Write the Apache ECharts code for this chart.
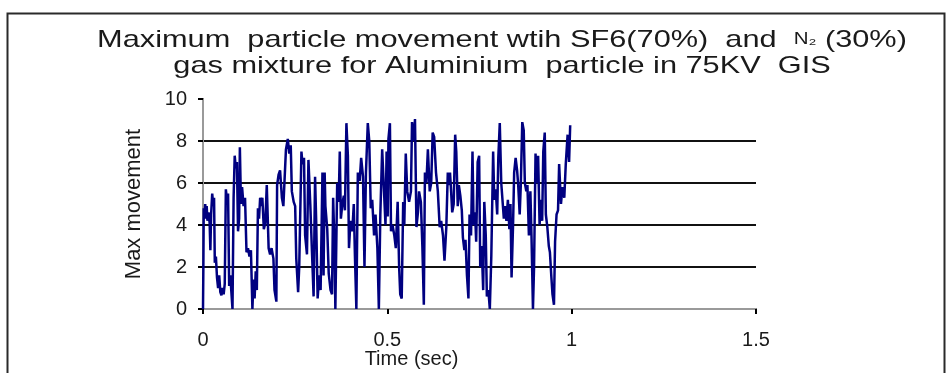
<!DOCTYPE html>
<html>
<head>
<meta charset="utf-8">
<script src="https://cdn.jsdelivr.net/npm/echarts@6/dist/echarts.min.js"></script>
<style>
  html, body { margin: 0; padding: 0; background: #fff; }
  #chart { width: 946px; height: 373px; }
</style>
</head>
<body>
<div id="chart"></div>
<script>
// time axis (sec) and max movement
var timeSec = [
  0.000, 0.001, 0.002, 0.004, 0.006, 0.008, 0.010, 0.012, 0.015, 0.018, 0.020, 0.022, 0.025, 0.028, 0.030, 0.032,
  0.035, 0.038, 0.041, 0.044, 0.047, 0.050, 0.053, 0.056, 0.059, 0.062, 0.065, 0.068, 0.071, 0.074, 0.077, 0.080,
  0.083, 0.086, 0.089, 0.092, 0.095, 0.098, 0.100, 0.103, 0.106, 0.110, 0.114, 0.118, 0.122, 0.126, 0.130, 0.134,
  0.137, 0.140, 0.143, 0.146, 0.149, 0.152, 0.155, 0.158,
  0.161, 0.165, 0.169, 0.173, 0.178, 0.182, 0.186, 0.191, 0.194, 0.199, 0.201, 0.205, 0.209, 0.214, 0.218, 0.225,
  0.230, 0.234, 0.238, 0.241, 0.246, 0.250, 0.253, 0.258, 0.261, 0.267, 0.270, 0.274, 0.277, 0.282, 0.286, 0.291,
  0.295, 0.300, 0.304, 0.307, 0.311, 0.315, 0.319, 0.324, 0.327,
  0.330, 0.332, 0.337, 0.341, 0.346, 0.350, 0.353, 0.357, 0.359, 0.364, 0.368, 0.371, 0.374, 0.378, 0.382, 0.385,
  0.389, 0.393, 0.396, 0.400, 0.405, 0.409, 0.412, 0.416, 0.420, 0.425, 0.429, 0.434, 0.438, 0.442, 0.447, 0.451,
  0.455, 0.459, 0.464, 0.468, 0.473, 0.477, 0.481, 0.486, 0.490, 0.495,
  0.498, 0.501, 0.503, 0.507, 0.510, 0.514, 0.519, 0.523, 0.528, 0.532, 0.535, 0.539, 0.543, 0.546, 0.550, 0.554,
  0.559, 0.564, 0.567, 0.572, 0.575, 0.579, 0.583, 0.586, 0.591, 0.595, 0.599, 0.602, 0.606, 0.610, 0.615, 0.619,
  0.623, 0.627, 0.632, 0.637, 0.642, 0.646, 0.651, 0.655, 0.660,
  0.664, 0.667, 0.670, 0.673, 0.676, 0.680, 0.684, 0.687, 0.691, 0.694, 0.698, 0.702, 0.705, 0.709, 0.712, 0.716,
  0.720, 0.723, 0.727, 0.731, 0.734, 0.738, 0.741, 0.745, 0.749, 0.752, 0.756, 0.760, 0.763, 0.767, 0.770, 0.774,
  0.778, 0.782, 0.787, 0.790, 0.794, 0.798, 0.801, 0.805, 0.809, 0.812, 0.816, 0.819, 0.823, 0.827, 0.831,
  0.834, 0.837, 0.841, 0.844, 0.848, 0.852, 0.855, 0.859, 0.862, 0.866, 0.870, 0.873, 0.877, 0.880, 0.884, 0.888,
  0.891, 0.895, 0.898, 0.902, 0.905, 0.909, 0.913, 0.916, 0.920, 0.923, 0.927, 0.930, 0.934, 0.938, 0.941, 0.945,
  0.948, 0.952, 0.955, 0.959, 0.963, 0.966, 0.971, 0.975, 0.980, 0.984, 0.989, 0.993, 0.996
];
var maxMovement = [
  0, 2.0, 4.8, 4.4, 5.0, 4.3, 4.9, 4.2, 4.6, 4.1, 2.8, 4.5, 5.5, 4.9, 5.3, 2.2,
  2.5, 1.5, 1.0, 1.6, 0.8, 0.65, 1.0, 0.7, 1.2, 5.7, 5.2, 5.5, 1.1, 1.6, 0.8, 0.0,
  5.3, 7.3, 6.7, 7.0, 3.7, 4.3, 7.7, 5.0, 5.8, 4.9, 5.3, 2.7, 2.9, 2.5, 2.8, 0.0,
  1.4, 0.5, 1.8, 0.9, 4.8, 4.3, 5.3, 4.9,
  5.3, 3.8, 4.1, 5.9, 2.9, 2.6, 2.9, 2.4, 0.9, 0.35, 5.9, 6.4, 6.6, 5.3, 4.9, 7.6,
  8.1, 7.4, 7.8, 5.6, 5.1, 4.9, 2.4, 0.8, 2.0, 7.5, 6.9, 7.2, 3.5, 2.6, 7.1, 5.0,
  3.0, 0.6, 6.3, 4.2, 0.5, 1.6, 0.9, 6.5, 1.6,
  6.5, 4.9, 3.8, 1.7, 0.9, 0.7, 5.3, 2.8, 0.0, 6.0, 5.1, 7.5, 4.3, 5.0, 5.4, 4.7,
  8.85, 7.3, 2.9, 4.2, 3.7, 5.0, 2.6, 0.0, 6.5, 6.1, 7.2, 6.3, 2.0, 6.5, 8.85, 8.0,
  4.8, 5.2, 3.5, 4.5, 2.9, 0.0, 4.5, 7.6, 6.0, 4.0,
  7.5, 4.4, 8.1, 8.85, 3.7, 4.0, 3.5, 2.9, 5.1, 2.0, 0.7, 0.5, 5.1, 4.0, 7.4, 5.6,
  5.1, 5.6, 8.9, 8.0, 9.05, 3.9, 4.6, 5.6, 5.1, 3.0, 0.2, 6.5, 6.0, 7.6, 5.6, 6.0,
  8.4, 8.2, 6.5, 5.6, 3.9, 4.2, 3.5, 2.3, 3.9,
  6.5, 5.9, 6.5, 5.6, 4.6, 5.0, 8.3, 7.5, 4.9, 5.9, 5.4, 4.7, 3.4, 2.8, 3.3, 1.6,
  0.5, 4.5, 3.5, 7.5, 4.0, 4.6, 3.2, 7.0, 7.3, 2.0, 3.0, 0.9, 5.1, 3.5, 0.6, 0.9,
  0.0, 2.5, 7.5, 5.2, 5.7, 4.5, 7.2, 8.85, 6.0, 6.0, 4.3, 4.9, 4.2, 5.2, 3.8,
  5.0, 1.5, 4.0, 6.5, 7.2, 6.6, 5.9, 4.5, 5.9, 8.9, 8.5, 6.0, 5.6, 5.9, 3.5, 5.6,
  3.5, 0.0, 2.0, 7.4, 6.0, 7.3, 4.0, 5.2, 4.2, 7.5, 8.4, 4.5, 3.9, 3.0, 2.7, 1.5,
  0.7, 0.2, 3.2, 4.5, 4.7, 6.9, 5.0, 5.8, 5.3, 6.9, 8.3, 7.0, 8.75
];
var xTicks = [0, 0.5, 1, 1.5];
var yTicks = [0, 2, 4, 6, 8, 10];
var titleLines = [
    'Maximum  particle movement wtih SF6(70%)  and  {s|N₂} (30%)',
    'gas mixture for Aluminium  particle in 75KV  GIS'
];

var points = timeSec.map(function (t, i) { return [t, maxMovement[i]]; });

var myChart = echarts.init(document.getElementById('chart'));
var font = 'Liberation Sans, Arial, sans-serif';

// title text in the picture is stretched sideways, so it is drawn as scaled text
function titleText(str, y) {
    return {
        type: 'text',
        x: 502, y: y,
        scaleX: 1.28,
        style: {
            text: str,
            x: 0, y: 0,
            align: 'center',
            verticalAlign: 'middle',
            font: '24px ' + font,
            fill: '#1a1a1a',
            rich: { s: { font: '16px ' + font, fill: '#1a1a1a' } }
        }
    };
}

option = {
    animation: false,
    backgroundColor: '#fff',
    graphic: [{
        type: 'rect',
        left: 5, top: 11,
        shape: { width: 937, height: 420 },
        style: { fill: 'none', stroke: '#2a2a2a', lineWidth: 2 }
    }, titleText(titleLines[0], 40), titleText(titleLines[1], 66)],
    grid: { left: 203, right: 190, top: 99, bottom: 64, containLabel: false, outerBoundsMode: 'none' },
    xAxis: [{
        type: 'value',
        min: xTicks[0], max: xTicks[xTicks.length - 1], interval: 0.5,
        name: 'Time (sec)',
        nameLocation: 'middle',
        nameGap: 40,
        nameMoveOverlap: false,
        nameTextStyle: { fontFamily: font, fontSize: 20, color: '#1a1a1a', padding: [0, 136, 0, 0] },
        axisLine: { lineStyle: { color: '#000', width: 2 } },
        axisTick: { show: true, length: 5, lineStyle: { color: '#000', width: 2 } },
        axisLabel: { fontFamily: font, fontSize: 20, color: '#1a1a1a', margin: 21 },
        splitLine: { show: false }
    }, {
        type: 'value', position: 'top',
        min: xTicks[0], max: xTicks[xTicks.length - 1],
        axisLine: { show: true, lineStyle: { color: '#9a9a9a', width: 2 } },
        axisTick: { show: false }, axisLabel: { show: false }, splitLine: { show: false }
    }],
    yAxis: [{
        type: 'value',
        min: yTicks[0], max: yTicks[yTicks.length - 1], interval: 2,
        name: 'Max movement',
        nameLocation: 'middle',
        nameGap: 58,
        nameMoveOverlap: false,
        nameTextStyle: { fontFamily: font, fontSize: 22, color: '#1a1a1a' },
        axisLine: { show: true, lineStyle: { color: '#000', width: 2 } },
        axisTick: { show: true, length: 5, lineStyle: { color: '#000', width: 2 } },
        axisLabel: { fontFamily: font, fontSize: 20, color: '#1a1a1a', margin: 16 },
        splitLine: { show: true, showMaxLine: false, lineStyle: { color: '#111', width: 2 } }
    }, {
        type: 'value', position: 'right',
        min: yTicks[0], max: yTicks[yTicks.length - 1],
        axisLine: { show: true, lineStyle: { color: '#9a9a9a', width: 2 } },
        axisTick: { show: false }, axisLabel: { show: false }, splitLine: { show: false }
    }],
    series: [{
        name: 'Max movement',
        type: 'line',
        data: points,
        showSymbol: false,
        lineStyle: { color: '#000080', width: 2.5 },
        z: 3
    }]
};
myChart.setOption(option);
</script>
</body>
</html>
